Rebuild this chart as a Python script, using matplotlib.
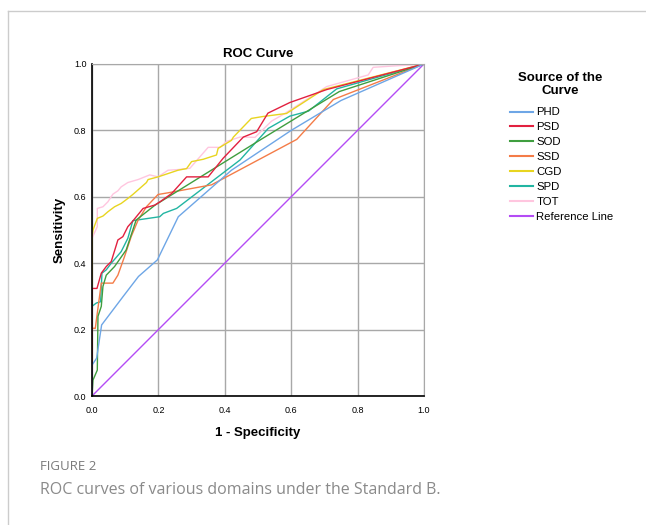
import matplotlib
matplotlib.use("Agg")
import matplotlib.pyplot as plt
from matplotlib.lines import Line2D

plt.rcParams['font.family'] = ['Liberation Sans', 'DejaVu Sans']

# ROC points (1 - specificity, sensitivity)
phd_x = [0, 0, 0.014, 0.029, 0.094, 0.14, 0.197, 0.26, 0.42, 0.6, 0.75, 1.0]
phd_y = [0, 0.093, 0.114, 0.214, 0.30, 0.36, 0.41, 0.54, 0.68, 0.80, 0.89, 1.0]

psd_x = [0, 0, 0.015, 0.028, 0.043, 0.058, 0.078, 0.093, 0.108, 0.123, 0.154, 0.189,
         0.205, 0.24, 0.285, 0.35, 0.395, 0.456, 0.496, 0.53, 0.596, 0.707, 1.0]
psd_y = [0, 0.324, 0.324, 0.37, 0.39, 0.405, 0.47, 0.48, 0.51, 0.527, 0.565, 0.575,
         0.585, 0.61, 0.66, 0.66, 0.716, 0.78, 0.796, 0.852, 0.884, 0.923, 1.0]

sod_x = [0, 0.003, 0.016, 0.018, 0.028, 0.033, 0.043, 0.068, 0.103, 0.133, 0.19, 0.506, 0.745, 1.0]
sod_y = [0, 0.048, 0.078, 0.24, 0.27, 0.33, 0.364, 0.39, 0.44, 0.53, 0.575, 0.771, 0.917, 1.0]

ssd_x = [0, 0, 0.01, 0.016, 0.028, 0.063, 0.078, 0.098, 0.118, 0.139, 0.164, 0.199,
         0.229, 0.36, 0.617, 0.727, 1.0]
ssd_y = [0, 0.204, 0.204, 0.25, 0.34, 0.34, 0.364, 0.42, 0.48, 0.53, 0.57, 0.607,
         0.612, 0.636, 0.773, 0.893, 1.0]

cgd_x = [0, 0, 0.003, 0.016, 0.033, 0.048, 0.068, 0.088, 0.108, 0.123, 0.164, 0.169,
         0.199, 0.229, 0.259, 0.285, 0.3, 0.335, 0.375, 0.38, 0.42, 0.426, 0.48, 0.516,
         0.586, 0.697, 1.0]
cgd_y = [0, 0.48, 0.5, 0.535, 0.542, 0.555, 0.57, 0.58, 0.595, 0.607, 0.643, 0.652,
         0.66, 0.67, 0.68, 0.685, 0.706, 0.713, 0.726, 0.746, 0.77, 0.78, 0.836, 0.842,
         0.851, 0.923, 1.0]

spd_x = [0, 0, 0.013, 0.026, 0.03, 0.043, 0.058, 0.088, 0.108, 0.123, 0.149, 0.204,
         0.215, 0.255, 0.446, 0.531, 0.596, 0.652, 0.737, 1.0]
spd_y = [0, 0.27, 0.28, 0.284, 0.37, 0.38, 0.40, 0.435, 0.475, 0.528, 0.532, 0.54,
         0.55, 0.565, 0.711, 0.806, 0.843, 0.858, 0.925, 1.0]

tot_x = [0, 0, 0.016, 0.016, 0.033, 0.048, 0.063, 0.078, 0.088, 0.108, 0.139, 0.174,
         0.199, 0.229, 0.259, 0.295, 0.35, 0.386, 0.406, 0.446, 0.491, 0.541, 0.581,
         0.707, 0.832, 0.847, 1.0]
tot_y = [0, 0.475, 0.51, 0.565, 0.57, 0.585, 0.608, 0.618, 0.63, 0.643, 0.652, 0.666,
         0.66, 0.68, 0.682, 0.686, 0.749, 0.749, 0.767, 0.78, 0.779, 0.828, 0.851,
         0.932, 0.967, 0.99, 1.0]

ref_x = [0, 1]
ref_y = [0, 1]

names = ['PHD', 'PSD', 'SOD', 'SSD', 'CGD', 'SPD', 'TOT', 'Reference Line']
colors = ['#6EA6E6', '#E2203F', '#3F9E3F', '#F47C48', '#E8D520', '#22B5A2', '#FFC6DF', '#B44CF5']
curves = [(phd_x, phd_y), (psd_x, psd_y), (sod_x, sod_y), (ssd_x, ssd_y),
          (cgd_x, cgd_y), (spd_x, spd_y), (tot_x, tot_y), (ref_x, ref_y)]

fig = plt.figure(figsize=(6.46, 5.25), dpi=100)
ax = fig.add_axes([0.1424, 0.2457, 0.5139, 0.6324])

# draw in reverse so the earlier series sit on top like the original
for (x, y), c in list(zip(curves, colors))[::-1]:
    ax.plot(x, y, color=c, lw=1.0)

ax.set_xlim(0, 1)
ax.set_ylim(0, 1)
ticks = [0.0, 0.2, 0.4, 0.6, 0.8, 1.0]
ax.set_xticks(ticks)
ax.set_yticks(ticks)
ax.set_xticklabels(['%.1f' % t for t in ticks], fontsize=6.5)
ax.set_yticklabels(['%.1f' % t for t in ticks], fontsize=6.5)
ax.tick_params(axis='x', length=0, pad=7)
ax.tick_params(axis='y', length=0, pad=4)
ax.grid(True, color='#A8A8A8', lw=1.0)
ax.set_axisbelow(True)
for s in ['top', 'right']:
    ax.spines[s].set_color('#A8A8A8')
for s in ['left', 'bottom']:
    ax.spines[s].set_color('black')
    ax.spines[s].set_linewidth(1.2)

ax.set_title('ROC Curve', fontsize=9.5, fontweight='bold', pad=5)
ax.set_xlabel('1 - Specificity', fontsize=9.5, fontweight='bold', labelpad=9)
ax.set_ylabel('Sensitivity', fontsize=9.5, fontweight='bold', labelpad=6)

# legend title drawn separately so it can be centred over two lines
fig.text(560 / 646, 1 - 84.5 / 525, 'Source of the\nCurve', ha='center', va='center',
         fontsize=9.5, fontweight='bold', linespacing=1.2)
handles = [Line2D([0], [0], color=c, lw=1.5) for c in colors]
fig.legend(handles, names, loc='upper left', bbox_to_anchor=(510 / 646, 1 - 107.5 / 525),
           frameon=False, fontsize=8.2, borderpad=0, borderaxespad=0,
           handlelength=2.0, handletextpad=0.3, labelspacing=0.43)

# frame lines at top and left of the figure panel
fig.add_artist(Line2D([8 / 646, 1], [1 - 11 / 525, 1 - 11 / 525], color='#CCCCCC', lw=1))
fig.add_artist(Line2D([8 / 646, 8 / 646], [0, 1 - 11 / 525], color='#CCCCCC', lw=1))

fig.text(40 / 646, 1 - 467 / 525, 'FIGURE 2', fontsize=9.5, color='#7A7A7A',
         family='Open Sans', va='center')
fig.text(40 / 646, 1 - 490 / 525, 'ROC curves of various domains under the Standard B.',
         fontsize=11.5, color='#8A8A8A', family='Open Sans', va='center')

fig.savefig('out.png', dpi=100)
